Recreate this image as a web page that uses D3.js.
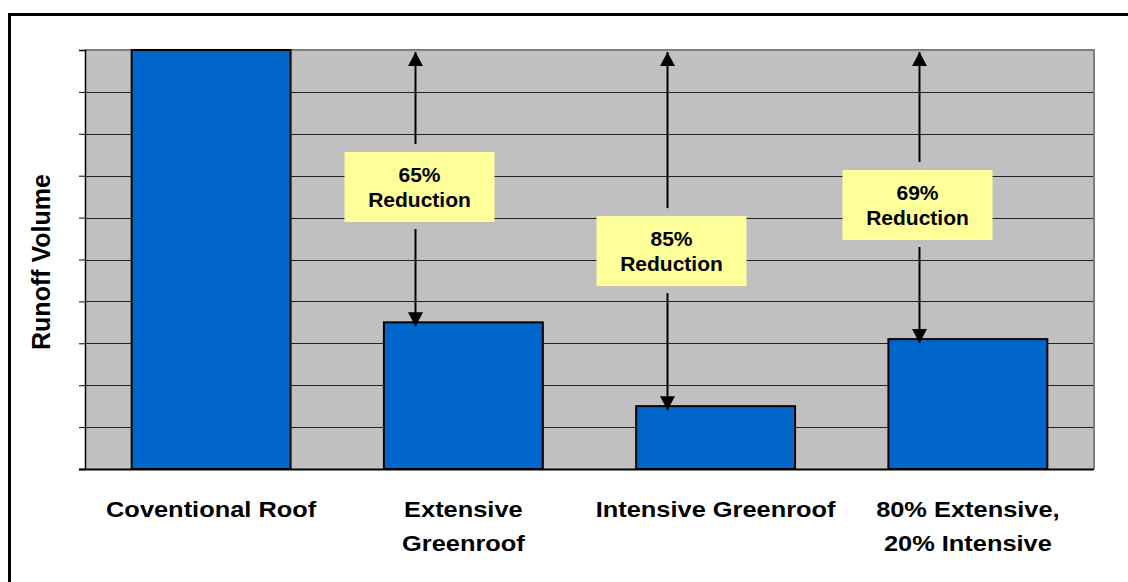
<!DOCTYPE html>
<html>
<head>
<meta charset="utf-8">
<script src="https://cdn.jsdelivr.net/npm/d3@7"></script>
<style>
  html, body { margin: 0; padding: 0; background: #fff; }
  svg { display: block; font-family: "Liberation Sans", Arial, sans-serif; }
</style>
</head>
<body>
<svg id="chart" width="1128" height="582"></svg>
<script>
// Runoff volume by roof type (relative to a conventional roof = 100)
const categories = ["Coventional Roof", "Extensive Greenroof", "Intensive Greenroof", "80% Extensive, 20% Intensive"];
const categoryLines = [["Coventional Roof"], ["Extensive", "Greenroof"], ["Intensive Greenroof"], ["80% Extensive,", "20% Intensive"]];
const runoff = [100, 35, 15, 31];
const reductionLabels = [null, "65%", "85%", "69%"];
const yTicks = [0, 10, 20, 30, 40, 50, 60, 70, 80, 90, 100];

const svg = d3.select("#chart");
const W = 1128, H = 582;
const plot = { left: 85, top: 50, right: 1094, bottom: 469 };

// Outer frame
svg.append("rect")
  .attr("x", 9.5).attr("y", 14.5)
  .attr("width", W + 20).attr("height", H + 20)
  .attr("fill", "none").attr("stroke", "#000").attr("stroke-width", 3);

const x = d3.scaleBand()
  .domain(categories)
  .range([plot.left, plot.right])
  .paddingInner(0.37)
  .paddingOuter(0.185);

const y = d3.scaleLinear().domain([0, 100]).range([plot.bottom, plot.top]);

// Plot background
svg.append("rect")
  .attr("x", plot.left).attr("y", plot.top)
  .attr("width", plot.right - plot.left).attr("height", plot.bottom - plot.top)
  .attr("fill", "#c0c0c0");

// Gridlines
svg.append("g").selectAll("line")
  .data(yTicks.filter(t => t > 0 && t < 100))
  .join("line")
  .attr("x1", plot.left).attr("x2", plot.right)
  .attr("y1", d => Math.round(y(d)) + 0.5).attr("y2", d => Math.round(y(d)) + 0.5)
  .attr("stroke", "#222").attr("stroke-width", 1);

// Gray top and right plot borders
svg.append("path")
  .attr("d", `M${plot.left},${plot.top} H${plot.right} V${plot.bottom}`)
  .attr("fill", "none").attr("stroke", "#808080").attr("stroke-width", 2);

// Bars
svg.append("g").selectAll("rect")
  .data(categories)
  .join("rect")
  .attr("x", d => x(d))
  .attr("y", (d, i) => y(runoff[i]))
  .attr("width", x.bandwidth())
  .attr("height", (d, i) => y(0) - y(runoff[i]))
  .attr("fill", "#0066cc")
  .attr("stroke", "#000").attr("stroke-width", 2);

// Left axis: ticks without labels
const yAxis = d3.axisLeft(y).tickValues(yTicks).tickSize(6).tickFormat("");
const gy = svg.append("g").attr("transform", `translate(${plot.left},0)`).call(yAxis);
gy.select(".domain").attr("stroke", "#000").attr("stroke-width", 1.5);
gy.selectAll(".tick line").attr("stroke", "#000");

// Bottom axis line
svg.append("line")
  .attr("x1", plot.left - 6).attr("x2", plot.right)
  .attr("y1", plot.bottom + 0.5).attr("y2", plot.bottom + 0.5)
  .attr("stroke", "#000").attr("stroke-width", 2);

// Category labels (slightly widened lettering)
const catG = svg.append("g");
categories.forEach((c, i) => {
  const cx = x(c) + x.bandwidth() / 2;
  const t = catG.append("text")
    .attr("transform", `translate(${cx},517) scale(1.155,1)`)
    .attr("text-anchor", "middle")
    .attr("font-size", 22).attr("font-weight", "bold").attr("fill", "#000");
  categoryLines[i].forEach((line, j) => {
    t.append("tspan").attr("x", 0).attr("y", j * 34).text(line);
  });
});

// Y axis title
svg.append("text")
  .attr("transform", `translate(50,262) rotate(-90)`)
  .attr("text-anchor", "middle")
  .attr("font-size", 25).attr("font-weight", "bold")
  .text("Runoff Volume");

// Reduction arrows and callouts
const defs = svg.append("defs");
defs.append("marker")
  .attr("id", "arrowhead")
  .attr("viewBox", "0 0 14 15")
  .attr("refX", 14).attr("refY", 7.5)
  .attr("markerWidth", 14).attr("markerHeight", 15)
  .attr("markerUnits", "userSpaceOnUse")
  .attr("orient", "auto")
  .append("path").attr("d", "M0,0 L14,7.5 L0,15 Z").attr("fill", "#000");

// Callout box centres on the value scale
const boxCenterValue = [null, 67.3, 52.0, 63.0];
const boxOffset = [0, 4, 4, -2];
const boxW = 150, boxH = 70;

categories.forEach((c, i) => {
  if (!reductionLabels[i]) return;
  const ax = Math.round(x(c) + 31) + 0.5;
  const cy = y(boxCenterValue[i]);
  const bTop = cy - boxH / 2, bBot = cy + boxH / 2;
  const g = svg.append("g");
  // upward arrow to the conventional-roof level
  g.append("line")
    .attr("x1", ax).attr("x2", ax)
    .attr("y1", bTop - 8).attr("y2", y(100) + 2)
    .attr("stroke", "#000").attr("stroke-width", 2)
    .attr("marker-end", "url(#arrowhead)");
  // downward arrow to the bar top
  g.append("line")
    .attr("x1", ax).attr("x2", ax)
    .attr("y1", bBot + 7).attr("y2", y(runoff[i]) + 4)
    .attr("stroke", "#000").attr("stroke-width", 2)
    .attr("marker-end", "url(#arrowhead)");
  const bx = ax + boxOffset[i];
  g.append("rect")
    .attr("x", bx - boxW / 2).attr("y", bTop)
    .attr("width", boxW).attr("height", boxH)
    .attr("fill", "#ffff99");
  const t = g.append("text")
    .attr("text-anchor", "middle")
    .attr("font-size", 21).attr("font-weight", "bold");
  t.append("tspan").attr("x", bx).attr("y", cy - 5).text(reductionLabels[i]);
  t.append("tspan").attr("x", bx).attr("y", cy + 20).text("Reduction");
});
</script>
</body>
</html>
